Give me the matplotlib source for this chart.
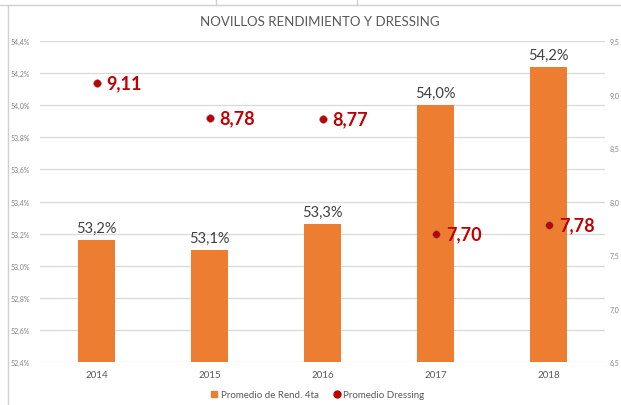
import numpy as np
import matplotlib.pyplot as plt
from matplotlib.lines import Line2D
from matplotlib.patches import Patch

# data
years = ['2014', '2015', '2016', '2017', '2018']
rend = [53.16, 53.10, 53.26, 54.00, 54.24]          # Promedio de Rend. 4ta (%)
rend_labels = ['53,2%', '53,1%', '53,3%', '54,0%', '54,2%']
dressing = [9.11, 8.78, 8.77, 7.70, 7.78]           # Promedio Dressing
left_ticks = [52.4, 52.6, 52.8, 53.0, 53.2, 53.4, 53.6, 53.8, 54.0, 54.2, 54.4]
right_ticks = [6.5, 7.0, 7.5, 8.0, 8.5, 9.0, 9.5]

plt.rcParams['font.family'] = ['Lato', 'DejaVu Sans']

orange = '#ED7D31'
red = '#C00000'
grey = '#595959'

W, H = 621, 406
fig = plt.figure(figsize=(W / 100, H / 100), dpi=100)
ax = fig.add_axes([40 / W, 1 - 363 / H, 565 / W, 321 / H])
ax2 = ax.twinx()

x = np.arange(len(years))
ax.bar(x, rend, width=0.32, color=orange, zorder=2)
for xi, v, lab in zip(x, rend, rend_labels):
    ax.text(xi, v + 0.03, lab, ha='center', va='bottom', fontsize=10.5, color='#404040')

ax.set_xlim(-0.5, 4.5)
ax.set_ylim(52.4, 54.4)
ax.set_yticks(left_ticks)
ax.set_yticklabels([('%.1f%%' % t).replace('.', ',') for t in left_ticks])
ax.set_xticks(x)
ax.set_xticklabels(years)
ax.grid(axis='y', color='#D9D9D9', linewidth=0.9, zorder=0)
ax.set_axisbelow(True)
ax.tick_params(axis='y', length=0, labelsize=5, labelcolor='#7F7F7F', pad=7)
ax.tick_params(axis='x', length=0, labelsize=7, labelcolor=grey, pad=6)

ax2.plot(x, dressing, 'o', color=red, markersize=5.5, markeredgecolor='#7F7F7F',
         markeredgewidth=0.4, zorder=3)
for xi, v in zip(x, dressing):
    ax2.text(xi + 0.09, v, ('%.2f' % v).replace('.', ','), ha='left', va='center',
             fontsize=13, fontweight='bold', color=red)
ax2.set_ylim(6.5, 9.5)
ax2.set_yticks(right_ticks)
ax2.set_yticklabels([('%.1f' % t).replace('.', ',') for t in right_ticks])
ax2.tick_params(axis='y', length=0, labelsize=5, labelcolor='#7F7F7F', pad=3)

for a in (ax, ax2):
    for s in a.spines.values():
        s.set_visible(False)

fig.text(320 / W, 1 - 22 / H, 'NOVILLOS RENDIMIENTO Y DRESSING', ha='center', va='center',
         fontsize=9.5, color=grey)

handles = [Patch(color=orange, label='Promedio de Rend. 4ta'),
           Line2D([], [], marker='o', linestyle='', color=red, markersize=5,
                  label='Promedio Dressing')]
fig.legend(handles=handles, loc='center', bbox_to_anchor=(318 / W, 1 - 396 / H), ncol=2,
           frameon=False, fontsize=7, labelcolor=grey, handlelength=0.6, handleheight=0.6,
           handletextpad=0.4, columnspacing=1.5)

# screenshot frame lines
fig.add_artist(Line2D([8 / W, 8 / W], [0, 1 - 6 / H], color='#D0D0D0', linewidth=1))
fig.add_artist(Line2D([0, 1], [1 - 6 / H, 1 - 6 / H], color='#D0D0D0', linewidth=1))
fig.add_artist(Line2D([216 / W, 216 / W], [1 - 6 / H, 1], color='#D0D0D0', linewidth=1))
fig.add_artist(Line2D([357 / W, 357 / W], [1 - 6 / H, 1], color='#D0D0D0', linewidth=1))

fig.savefig('out.png', dpi=100)
